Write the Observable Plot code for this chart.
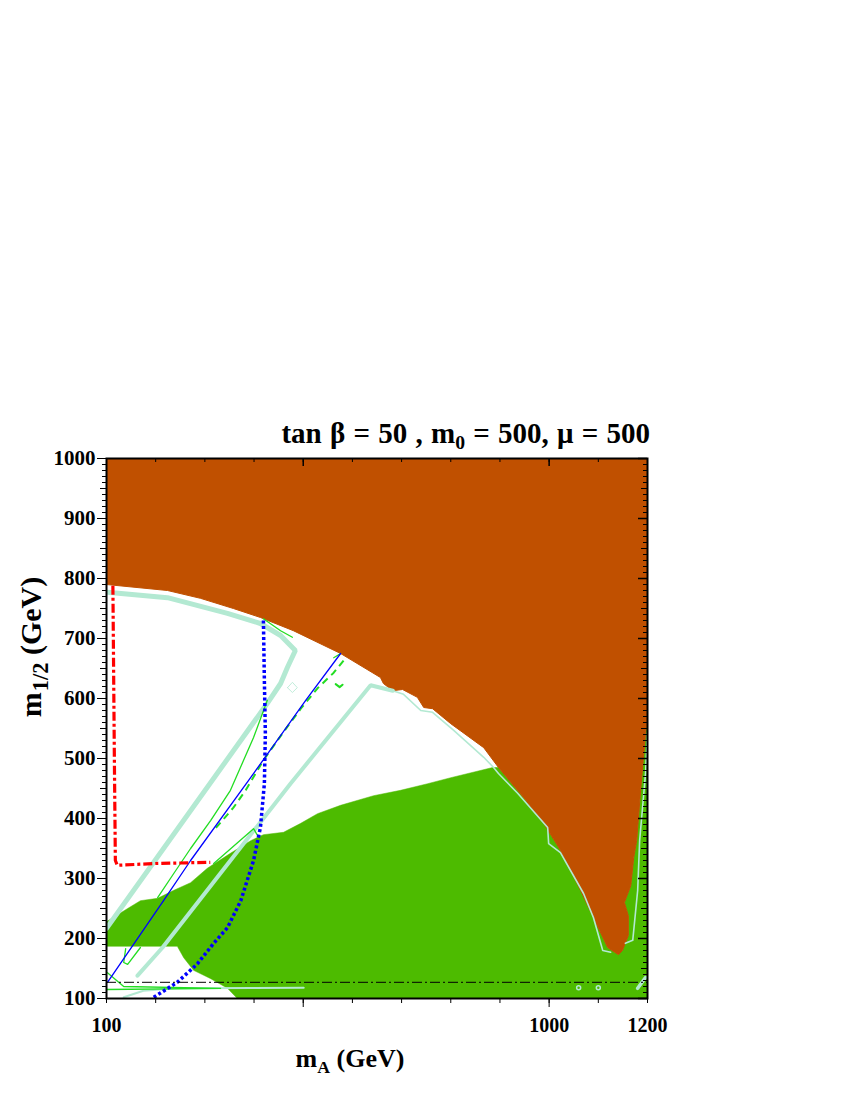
<!DOCTYPE html>
<html><head><meta charset="utf-8">
<script src="https://cdn.jsdelivr.net/npm/d3@7"></script>
<script src="https://cdn.jsdelivr.net/npm/@observablehq/plot@0.6"></script>
<style>
html,body{margin:0;padding:0;background:#fff;}
#wrap{position:relative;width:850px;height:1100px;font-family:"Liberation Serif","Times New Roman",serif;font-weight:bold;color:#000;}
#chart{position:absolute;left:0;top:0;}
.lbl{position:absolute;white-space:nowrap;line-height:1;}
.sb{font-size:0.68em;position:relative;top:0.32em;}
.sb2{font-size:0.75em;position:relative;top:0.3em;margin-left:1px;}
</style></head><body>
<div id="wrap">
<div id="chart"></div>
<div class="lbl" id="title" style="right:200px;top:419px;font-size:29px;word-spacing:1px;">tan β = 50 , m<span class="sb">0</span> = 500, μ = 500</div>
<div class="lbl" id="xlab" style="left:350px;top:1046px;font-size:26px;transform:translateX(-50%);">m<span class="sb">A</span> (GeV)</div>
<div class="lbl" id="ylab" style="left:31px;top:647px;font-size:30px;transform:translate(-50%,-50%) rotate(-90deg);">m<span class="sb2">1/2</span> (GeV)</div>
</div>
<script>
// ---- data (x = m_A in GeV, y = m_1/2 in GeV) ----
const brownX = [100,224,291,358,413,480,576,657,663,682,702,732,745,763,800,867,897,948,989,1023,1064,1090,1119,1141,1149,1161,1161,1153,1166,1172,1178,1186,1196,1200];
const brownY = [790,780,767,750,735,713,675,635,625,613,615,602,585,583,558,518,485,435,392,347,280,235,185,173,180,205,238,260,288,335,363,447,542,572];
const brownCornerX = [1200,100];
const brownCornerY = [1000,1000];

const greenTopX = [100,143,169,204,236,271,305,352,393,419,460,495,529,576,643,698,753,800,885];
const greenTopY = [228,250,263,267,280,293,317,342,363,373,377,392,408,422,438,447,458,468,485];
const greenBotX = [1200,366,346,312,277,257,244,100];
const greenBotY = [100,100,117,133,147,168,187,187];

const redX = [113,116,118,122,200,311];
const redY = [788,500,330,322,325,327];

const blueDotX = [196,244,285,318,346,373,399,413,421,423,421,419];
const blueDotY = [102,127,158,192,218,263,330,385,458,542,630,733];

const blueX = [102,216,271,393,505,576];
const blueY = [127,263,330,468,597,675];

const mintAX = [102,224,346,413,454,484,468,454,427,100];
const mintAY = [777,768,742,725,705,680,652,625,592,217];
const mintCX = [163,214,474,637,682];
const mintCY = [138,185,458,622,613];
const mintBX = [682,704,739,763,806,867,887,897,936,997,999,1023,1070,1090,1109,1125];
const mintBY = [613,607,580,577,547,502,485,475,442,385,358,343,275,235,180,177];
const mintRX = [1155,1170,1180,1184,1196,1200];
const mintRY = [192,197,280,363,475,542];
const mintHX = [135,175,240,501];
const mintHY = [102,113,117,118];
const mintDiaX = [468,478,488,478,468];
const mintDiaY = [618,627,618,610,618];
const mintBlobX = [1180,1196];
const mintBlobY = [117,135];
const mintDotX = [1060,1100];
const mintDotY = [118,118];

const g1X = [204,234,271,312,352,399,427];
const g1Y = [268,305,350,397,447,535,597];
const gVX = [139,135,143,169];
const gVY = [183,160,157,185];
const g2X = [318,399,407];
const g2Y = [325,383,372];
const g3X = [419,454,478];
const g3Y = [733,713,702];
const g3bX = [562,576];
const g3bY = [668,675];
const g4X = [102,135,332,100];
const g4Y = [143,120,117,115];
const gDashX = [582,562,529,495,458,419,383,358,318];
const gDashY = [663,643,617,583,542,497,447,418,380];
const gHookX = [566,574,580];
const gHookY = [624,619,623];

const cutY = [127];

const xMinorTicks = d3.range(100, 1201, 100);
const xMajorTicks = [500, 1000];
const xLabelTicks = [100, 1000, 1200];
const yMinorTicks = d3.range(100, 1001, 10);
const yMidTicks = d3.range(150, 1000, 100);
const yMajorTicks = d3.range(100, 1001, 100);

// ---- build ----
const pts = (xs, ys) => xs.map((x, i) => ({x, y: ys[i]}));
const brownPoly = pts(brownX.concat(brownCornerX), brownY.concat(brownCornerY));
const iStart = brownY.indexOf(485);
const greenPoly = pts(
  greenTopX.concat(brownX.slice(iStart), greenBotX),
  greenTopY.concat(brownY.slice(iStart), greenBotY)
);

const BROWN = "#c05000", GREEN = "#4dbb00", MINT = "#b3e9d2", LGREEN = "#22dd22", BLUE = "#0000ff", RED = "#ff0000";
const W = 850, H = 1100, mL = 106, mR = 203, mT = 458, mB = 102;
const fw = W - mL - mR, fh = H - mT - mB;

const ln = (xs, ys, o) => Plot.line(pts(xs, ys), {x: "x", y: "y", clip: true, ...o});

const chart = Plot.plot({
  width: W, height: H,
  marginLeft: mL, marginRight: mR, marginTop: mT, marginBottom: mB,
  x: {type: "linear", domain: [100, 1200]},
  y: {type: "linear", domain: [100, 1000]},
  style: {fontFamily: "'Liberation Serif','Times New Roman',serif", fontWeight: "bold", fontSize: "20px", background: "transparent", color: "black"},
  marks: [
    Plot.line(greenPoly, {x: "x", y: "y", fill: GREEN, stroke: GREEN, strokeWidth: 0.5, clip: true}),
    Plot.line(brownPoly, {x: "x", y: "y", fill: BROWN, stroke: BROWN, strokeWidth: 1, clip: true}),
    ln(mintAX, mintAY, {stroke: MINT, strokeWidth: 5, strokeLinejoin: "miter"}),
    ln(mintCX, mintCY, {stroke: MINT, strokeWidth: 4, strokeLinejoin: "miter"}),
    ln(mintBX, mintBY, {stroke: MINT, strokeWidth: 1.6}),
    ln(mintRX, mintRY, {stroke: MINT, strokeWidth: 1.6}),
    ln(mintHX, mintHY, {stroke: MINT, strokeWidth: 2}),
    ln(mintDiaX, mintDiaY, {stroke: MINT, strokeWidth: 0.8}),
    ln(mintBlobX, mintBlobY, {stroke: MINT, strokeWidth: 3.5}),
    Plot.dot(pts(mintDotX, mintDotY), {x: "x", y: "y", r: 2, stroke: MINT, fill: "none"}),
    ln(g1X, g1Y, {stroke: LGREEN, strokeWidth: 1.3}),
    ln(gVX, gVY, {stroke: LGREEN, strokeWidth: 1.3}),
    ln(g2X, g2Y, {stroke: LGREEN, strokeWidth: 1.3}),
    ln(g3X, g3Y, {stroke: LGREEN, strokeWidth: 1.3}),
    ln(g3bX, g3bY, {stroke: LGREEN, strokeWidth: 1.3}),
    ln(g4X, g4Y, {stroke: LGREEN, strokeWidth: 1.3}),
    ln(gHookX, gHookY, {stroke: LGREEN, strokeWidth: 2}),
    ln(gDashX, gDashY, {stroke: LGREEN, strokeWidth: 2, strokeDasharray: "7,5", strokeLinecap: "butt"}),
    ln(blueX, blueY, {stroke: BLUE, strokeWidth: 1.3}),
    ln(blueDotX, blueDotY, {stroke: BLUE, strokeWidth: 3.5, strokeDasharray: "3,2.5", strokeLinecap: "butt"}),
    ln(redX, redY, {stroke: RED, strokeWidth: 3.2, strokeDasharray: "9,3,3,3", strokeLinecap: "butt", strokeLinejoin: "miter"}),
    Plot.ruleY(cutY, {stroke: "black", strokeWidth: 1, strokeDasharray: "10,3,2,3"}),
    Plot.frame({stroke: "black", strokeWidth: 2}),
    // bottom axis (outward ticks)
    Plot.axisX({anchor: "bottom", ticks: xMinorTicks, tickSize: 5, tickFormat: () => "", label: null}),
    Plot.axisX({anchor: "bottom", ticks: xMajorTicks, tickSize: 9, tickFormat: () => "", label: null}),
    Plot.axisX({anchor: "bottom", ticks: xLabelTicks, tickSize: 0, tickPadding: 19, tickFormat: d => String(d), label: null, fontSize: 20}),
    // top inward ticks
    Plot.tickX(xMinorTicks, {x: d => d, stroke: "black", strokeWidth: 1, insetBottom: fh - 4}),
    Plot.tickX(xMajorTicks, {x: d => d, stroke: "black", strokeWidth: 1.5, insetBottom: fh - 8}),
    // left axis (outward ticks)
    Plot.axisY({anchor: "left", ticks: yMinorTicks, tickSize: 4, tickFormat: () => "", label: null}),
    Plot.axisY({anchor: "left", ticks: yMidTicks, tickSize: 6, tickFormat: () => "", label: null}),
    Plot.axisY({anchor: "left", ticks: yMajorTicks, tickSize: 9, tickPadding: 2, tickFormat: d => String(d), label: null, fontSize: 21}),
    // right inward ticks
    Plot.tickY(yMinorTicks, {y: d => d, stroke: "black", strokeWidth: 1, insetLeft: fw - 4}),
    Plot.tickY(yMidTicks, {y: d => d, stroke: "black", strokeWidth: 1, insetLeft: fw - 6}),
    Plot.tickY(yMajorTicks, {y: d => d, stroke: "black", strokeWidth: 1.5, insetLeft: fw - 9})
  ]
});
document.getElementById("chart").appendChild(chart);
</script>
</body></html>
